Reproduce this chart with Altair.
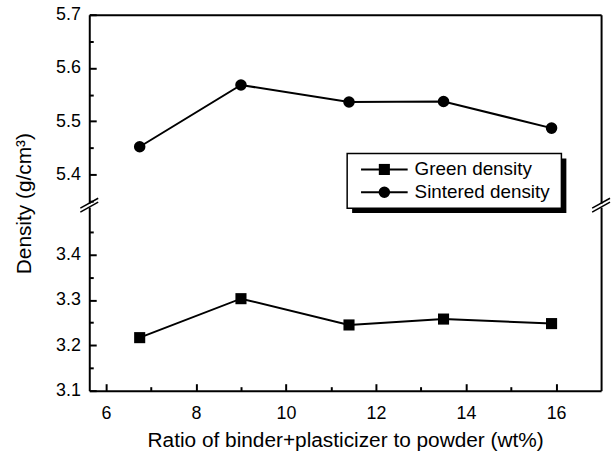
import altair as alt
import pandas as pd

# ---------------- data ----------------
ratio = [6.75, 9.0, 11.4, 13.5, 15.9]
green_density = [3.217, 3.303, 3.245, 3.258, 3.248]
sintered_density = [5.452, 5.568, 5.536, 5.537, 5.487]
series_names = ["Green density", "Sintered density"]

x_major = [6, 8, 10, 12, 14, 16]
x_minor = [7, 9, 11, 13, 15]
upper_major = [5.4, 5.5, 5.6, 5.7]
upper_minor = [5.35, 5.45, 5.55, 5.65]
lower_major = [3.1, 3.2, 3.3, 3.4]
lower_minor = [3.15, 3.25, 3.35, 3.45]

x_title = "Ratio of binder+plasticizer to powder (wt%)"
y_title = "Density (g/cm³)"

# ---------------- layout / style ----------------
FONT = "Liberation Sans"
W = 516
H_UP = 190
H_LO = 185
GAP = 4
X_DOMAIN = [5.63, 17.0]
UP_DOMAIN = [5.346, 5.7]
LO_DOMAIN = [3.1, 3.505]
LABEL_SIZE = 18
LEGEND_SIZE = 19
TITLE_SIZE = 21

green_df = pd.DataFrame({"ratio": ratio, "density": green_density,
                         "series": series_names[0]})
sint_df = pd.DataFrame({"ratio": ratio, "density": sintered_density,
                        "series": series_names[1]})
one = pd.DataFrame({"k": [0]})


def ax(**kw):
    base = dict(grid=False, title=None, labels=False, ticks=False,
                domain=False, minExtent=0, tickSize=0,
                domainColor="black", domainWidth=2,
                tickColor="black", tickWidth=2,
                labelFont=FONT, labelColor="black", labelFontSize=LABEL_SIZE,
                titleFont=FONT, titleColor="black", titleFontSize=TITLE_SIZE,
                titleFontWeight="normal")
    base.update(kw)
    return alt.Axis(**base)


def X(axis):
    return alt.X("ratio:Q", scale=alt.Scale(domain=X_DOMAIN, nice=False, zero=False),
                 axis=axis)


def Y(dom, axis):
    return alt.Y("density:Q", scale=alt.Scale(domain=dom, nice=False, zero=False),
                 axis=axis)


def slash(x0, y0):
    return alt.Chart(one).mark_rule(color="black", strokeWidth=1.5).encode(
        x=alt.value(x0 - 9), x2=alt.value(x0 + 9),
        y=alt.value(y0 + 5), y2=alt.value(y0 - 5))


# ---------------- legend (drawn inside upper panel) ----------------
LEG_BOX = (260, 140, 476, 195)
LEG_SHADOW = 5
LEG_ROWS = [156, 179]
LEG_LINE = (274, 321)
LEG_TEXT_X = 328
legend_shapes = ["square", "circle"]
legend_sizes = [125, 135]


def legend_layers():
    x0, y0, x1, y1 = LEG_BOX
    layers = [
        alt.Chart(one).mark_rect(color="black").encode(
            x=alt.value(x0 + LEG_SHADOW), x2=alt.value(x1 + LEG_SHADOW),
            y=alt.value(y0 + LEG_SHADOW), y2=alt.value(y1 + LEG_SHADOW)),
        alt.Chart(one).mark_rect(fill="white", stroke="black", strokeWidth=1.5).encode(
            x=alt.value(x0), x2=alt.value(x1), y=alt.value(y0), y2=alt.value(y1)),
    ]
    for name, shp, sz, yy in zip(series_names, legend_shapes, legend_sizes, LEG_ROWS):
        d = pd.DataFrame({"series": [name]})
        c = alt.Chart(d)
        layers.append(c.mark_rule(color="black", strokeWidth=2).encode(
            x=alt.value(LEG_LINE[0]), x2=alt.value(LEG_LINE[1]), y=alt.value(yy)))
        layers.append(c.mark_point(shape=shp, filled=True, size=sz, color="black",
                                   opacity=1).encode(
            x=alt.value((LEG_LINE[0] + LEG_LINE[1]) / 2), y=alt.value(yy)))
        layers.append(c.mark_text(align="left", baseline="middle", font=FONT,
                                  fontSize=LEGEND_SIZE, color="black").encode(
            x=alt.value(LEG_TEXT_X), y=alt.value(yy), text="series:N"))
    return layers


# ---------------- upper panel (sintered) ----------------
up = alt.Chart(sint_df)
up_line = up.mark_line(color="black", strokeWidth=2).encode(
    x=X(ax(orient="top", domain=True)),
    y=Y(UP_DOMAIN, ax(orient="left", domain=True, labels=True,
                      values=upper_major, format=".1f", labelPadding=9,
                      title=y_title, titleAngle=-90, titleX=-65, titleY=190,
                      titleBaseline="middle", titleAlign="center")),
)
up_pts = up.mark_point(shape="circle", filled=True, size=135, color="black",
                       opacity=1).encode(
    x=X(None),
    y=Y(UP_DOMAIN, ax(orient="right", offset=-W, ticks=True, tickSize=7,
                      values=upper_major)),
)
up_minor = up.mark_point(opacity=0).encode(
    x=X(None),
    y=Y(UP_DOMAIN, ax(orient="right", offset=-W, ticks=True, tickSize=4,
                      values=upper_minor)),
)
up_frame = up.mark_point(opacity=0).encode(
    x=X(None),
    y=Y(UP_DOMAIN, ax(orient="right", domain=True)),
)

upper = alt.layer(
    up_line, up_pts, up_minor, up_frame, *legend_layers(),
    slash(0, H_UP), slash(0, H_UP + GAP), slash(W, H_UP), slash(W, H_UP + GAP),
).resolve_axis(x="independent", y="independent").properties(width=W, height=H_UP)

# ---------------- lower panel (green) ----------------
lo = alt.Chart(green_df)
lo_line = lo.mark_line(color="black", strokeWidth=2).encode(
    x=X(ax(orient="bottom", domain=True, labels=True, values=x_major,
           labelPadding=14, title=x_title, titlePadding=7)),
    y=Y(LO_DOMAIN, ax(orient="left", domain=True, labels=True,
                      values=lower_major, format=".1f", labelPadding=9)),
)
lo_pts = lo.mark_point(shape="square", filled=True, size=125, color="black",
                       opacity=1).encode(
    x=X(ax(orient="top", offset=-H_LO, ticks=True, tickSize=7, values=x_major)),
    y=Y(LO_DOMAIN, ax(orient="right", offset=-W, ticks=True, tickSize=7,
                      values=lower_major)),
)
lo_minor = lo.mark_point(opacity=0).encode(
    x=X(ax(orient="top", offset=-H_LO, ticks=True, tickSize=4, values=x_minor)),
    y=Y(LO_DOMAIN, ax(orient="right", offset=-W, ticks=True, tickSize=4,
                      values=lower_minor)),
)
lo_frame = lo.mark_point(opacity=0).encode(
    x=X(None),
    y=Y(LO_DOMAIN, ax(orient="right", domain=True)),
)
lower = alt.layer(lo_line, lo_pts, lo_minor, lo_frame).resolve_axis(
    x="independent", y="independent").properties(width=W, height=H_LO)

chart = alt.vconcat(upper, lower, spacing=GAP, bounds="flush").properties(
    padding={"left": 14, "top": 4, "right": 0, "bottom": 0},
    background="white",
).configure_view(stroke=None)

chart.save("out.html", embed_options={"renderer": "svg", "actions": False})
